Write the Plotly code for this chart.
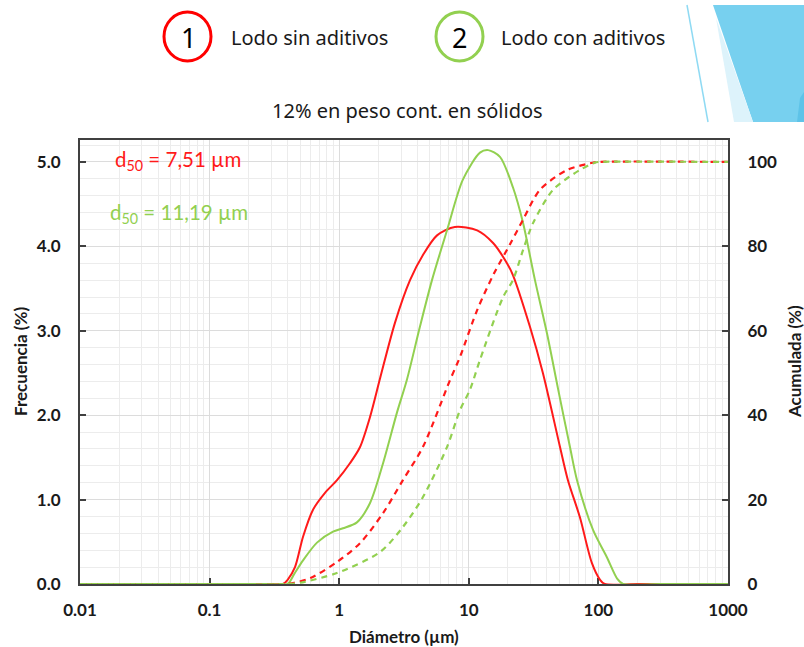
import plotly.graph_objects as go

# ---------------- data ----------------
size_ticks = [0.01, 0.1, 1, 10, 100, 1000]
size_tick_labels = ["0.01", "0.1", "1", "10", "100", "1000"]
freq_ticks = [0, 1, 2, 3, 4, 5]
freq_tick_labels = ["0.0", "1.0", "2.0", "3.0", "4.0", "5.0"]
cum_ticks = [0, 20, 40, 60, 80, 100]

# Lodo sin aditivos (1) - frecuencia
sin_freq_x = [0.01, 0.1, 0.3, 0.368, 0.40, 0.456, 0.526, 0.628, 0.777, 0.962, 1.21, 1.445,
              1.73, 2.07, 2.7, 3.52, 4.44, 5.69, 7.8, 11.6, 15.4, 19.7, 21.9, 29.6, 37.3,
              50.6, 58.2, 72, 89, 103, 112, 200, 1000]
sin_freq_y = [0, 0, 0, 0, 0.05, 0.20, 0.56, 0.88, 1.08, 1.23, 1.43, 1.62,
              1.98, 2.44, 3.10, 3.60, 3.90, 4.13, 4.23, 4.19, 4.04, 3.80, 3.66, 3.05, 2.50,
              1.62, 1.23, 0.79, 0.25, 0.05, 0, 0, 0]

# Lodo con aditivos (2) - frecuencia
con_freq_x = [0.01, 0.1, 0.3, 0.40, 0.45, 0.526, 0.674, 0.896, 1.07, 1.37, 1.73, 2.18,
              2.79, 3.33, 4.2, 5.2, 6.79, 9.0, 12.2, 14.1, 17.4, 21.9, 26.2, 32.4, 40.1,
              49, 60.4, 68.4, 90.9, 116, 140, 155, 300, 1000]
con_freq_y = [0, 0, 0, 0, 0.12, 0.28, 0.49, 0.62, 0.66, 0.73, 0.96, 1.43,
              2.03, 2.42, 3.05, 3.60, 4.19, 4.79, 5.11, 5.14, 5.06, 4.70, 4.28, 3.60, 2.97,
              2.30, 1.62, 1.23, 0.64, 0.32, 0.06, 0, 0, 0]

# Lodo sin aditivos (1) - acumulada
sin_cum_x = [0.01, 0.1, 0.37, 0.45, 0.6, 0.96, 1.45, 2.18, 3.1, 4.43, 7.16, 8.55, 11.6,
             15.6, 20.8, 26.2, 35.4, 57.3, 90, 100, 1000]
sin_cum_y = [0, 0, 0, 0.3, 1.4, 5.2, 9.7, 16.8, 24.6, 32.5, 48.3, 53.8, 64.9,
             73.5, 80.5, 86.3, 93.4, 98.1, 99.8, 100, 100]

# Lodo con aditivos (2) - acumulada
con_cum_x = [0.01, 0.1, 0.40, 0.5, 0.96, 2.07, 3.1, 4.43, 6.8, 8.55, 10.2, 12.2, 18.4,
             21.9, 26.2, 31.3, 44.7, 72, 95, 100, 1000]
con_cum_y = [0, 0, 0, 0.3, 2.6, 7.6, 13.5, 20.6, 32.5, 41.2, 46.0, 53.1, 68.0,
             72.0, 79.1, 85.5, 93.4, 98.1, 99.9, 100, 100]

RED = "#FF1A1A"
GREEN = "#92D050"
AXIS = "#404040"
TXT = "#1a1a1a"

# ---------------- geometry helpers ----------------
W, H = 804, 647
L, R, T, B = 80, 76, 140, 63
PW, PH = W - L - R, H - T - B


def px(x):
    return (x - L) / PW


def py(y):
    return (H - B - y) / PH


fig = go.Figure()

line_shape = dict(shape="spline", smoothing=0.8)

fig.add_trace(go.Scatter(x=sin_cum_x, y=sin_cum_y, mode="lines", yaxis="y2",
                         line=dict(color=RED, width=2.2, dash="6px,5px", **line_shape),
                         showlegend=False, hoverinfo="skip"))
fig.add_trace(go.Scatter(x=con_cum_x, y=con_cum_y, mode="lines", yaxis="y2",
                         line=dict(color=GREEN, width=2.2, dash="6px,5px", **line_shape),
                         showlegend=False, hoverinfo="skip"))
fig.add_trace(go.Scatter(x=sin_freq_x, y=sin_freq_y, mode="lines",
                         line=dict(color=RED, width=2, **line_shape),
                         showlegend=False, hoverinfo="skip"))
fig.add_trace(go.Scatter(x=con_freq_x, y=con_freq_y, mode="lines",
                         line=dict(color=GREEN, width=2, **line_shape),
                         showlegend=False, hoverinfo="skip"))

tickfont = dict(family="Lato", size=17, color=TXT, weight="bold")

fig.update_layout(
    width=W, height=H,
    margin=dict(l=L, r=R, t=T, b=B, pad=0),
    paper_bgcolor="white", plot_bgcolor="white",
    xaxis=dict(type="log", range=[-2, 3], tickvals=size_ticks, ticktext=size_tick_labels,
               ticks="inside", ticklen=6, tickwidth=2, tickcolor=AXIS,
               showline=True, linecolor=AXIS, linewidth=2, mirror=True,
               showgrid=True, gridcolor="#dcdcdc", gridwidth=1,
               minor=dict(dtick="D1", showgrid=True, gridcolor="#ececec", gridwidth=1, ticks=""),
               tickfont=tickfont, ticklabelstandoff=10, zeroline=False, layer="below traces"),
    yaxis=dict(range=[0, 5.26], tickvals=freq_ticks, ticktext=freq_tick_labels,
               ticks="inside", ticklen=6, tickwidth=2, tickcolor=AXIS,
               showline=True, linecolor=AXIS, linewidth=2,
               showgrid=True, gridcolor="#dcdcdc", gridwidth=1,
               minor=dict(dtick=0.2, showgrid=True, gridcolor="#ececec", gridwidth=1, ticks=""),
               tickfont=tickfont, ticklabelstandoff=14, zeroline=False, layer="below traces"),
    yaxis2=dict(range=[0, 105.2], tickvals=cum_ticks, overlaying="y", side="right",
                ticks="inside", ticklen=6, tickwidth=2, tickcolor=AXIS,
                showline=True, linecolor=AXIS, linewidth=2, showgrid=False,
                tickfont=tickfont, ticklabelstandoff=14, zeroline=False, layer="below traces"),
)

# ---------------- decorations (top-right) ----------------
fig.add_shape(type="path", xref="paper", yref="paper",
              path=f"M {px(713)},{py(5)} L {px(804)},{py(5)} L {px(804)},{py(122)} L {px(753)},{py(122)} Z",
              fillcolor="#77D0EF", line=dict(width=0), layer="above")
fig.add_shape(type="path", xref="paper", yref="paper",
              path=f"M {px(716)},{py(18)} L {px(753)},{py(122)} L {px(734)},{py(122)} Z",
              fillcolor="#DDF3FB", line=dict(width=0), layer="above")
fig.add_shape(type="path", xref="paper", yref="paper",
              path=f"M {px(800)},{py(98)} L {px(804)},{py(92)} L {px(804)},{py(122)} L {px(797)},{py(122)} Z",
              fillcolor="#5EC3E8", line=dict(width=0), layer="above")
fig.add_shape(type="line", xref="paper", yref="paper",
              x0=px(687), y0=py(5), x1=px(708), y1=py(122),
              line=dict(color="#8FDAF3", width=1.5), layer="above")

# ---------------- legend circles ----------------
fig.add_shape(type="circle", xref="paper", yref="paper",
              x0=px(164), x1=px(211), y0=py(12), y1=py(61),
              line=dict(color="#FF0000", width=3), fillcolor="white")
fig.add_shape(type="circle", xref="paper", yref="paper",
              x0=px(436), x1=px(483), y0=py(12), y1=py(61),
              line=dict(color=GREEN, width=3), fillcolor="white")

legend_font = dict(family="Noto Sans", size=20, color=TXT)
title_font = dict(family="Lato", size=17, color=TXT, weight="bold")
anns = [
    dict(x=px(188), y=py(37), text="1", font=dict(family="Noto Sans", size=27, color="#000"),
         xanchor="center", yanchor="middle"),
    dict(x=px(459), y=py(37), text="2", font=dict(family="Noto Sans", size=27, color="#000"),
         xanchor="center", yanchor="middle"),
    dict(x=px(229), y=py(37), text="Lodo sin aditivos", font=legend_font,
         xanchor="left", yanchor="middle"),
    dict(x=px(499), y=py(37), text="Lodo con aditivos", font=legend_font,
         xanchor="left", yanchor="middle"),
    dict(x=px(407), y=py(110), text="12% en peso cont. en sólidos",
         font=dict(family="Noto Sans", size=20, color=TXT), xanchor="center", yanchor="middle"),
    dict(x=px(113), y=py(160), text="d<sub>50</sub> = 7,51 µm",
         font=dict(family="Lato", size=20.5, color=RED), xanchor="left", yanchor="middle"),
    dict(x=px(108), y=py(213), text="d<sub>50</sub> = 11,19 µm",
         font=dict(family="Lato", size=20.5, color=GREEN), xanchor="left", yanchor="middle"),
    dict(x=px(20), y=py(362), text="Frecuencia (%)", textangle=-90, font=title_font,
         xanchor="center", yanchor="middle"),
    dict(x=px(794), y=py(362), text="Acumulada (%)", textangle=-90, font=title_font,
         xanchor="center", yanchor="middle"),
    dict(x=px(404), y=py(636), text="Diámetro (µm)", font=title_font,
         xanchor="center", yanchor="middle"),
]
for a in anns:
    a.update(xref="paper", yref="paper", showarrow=False)
    fig.add_annotation(**a)

fig.write_html("out.html")
